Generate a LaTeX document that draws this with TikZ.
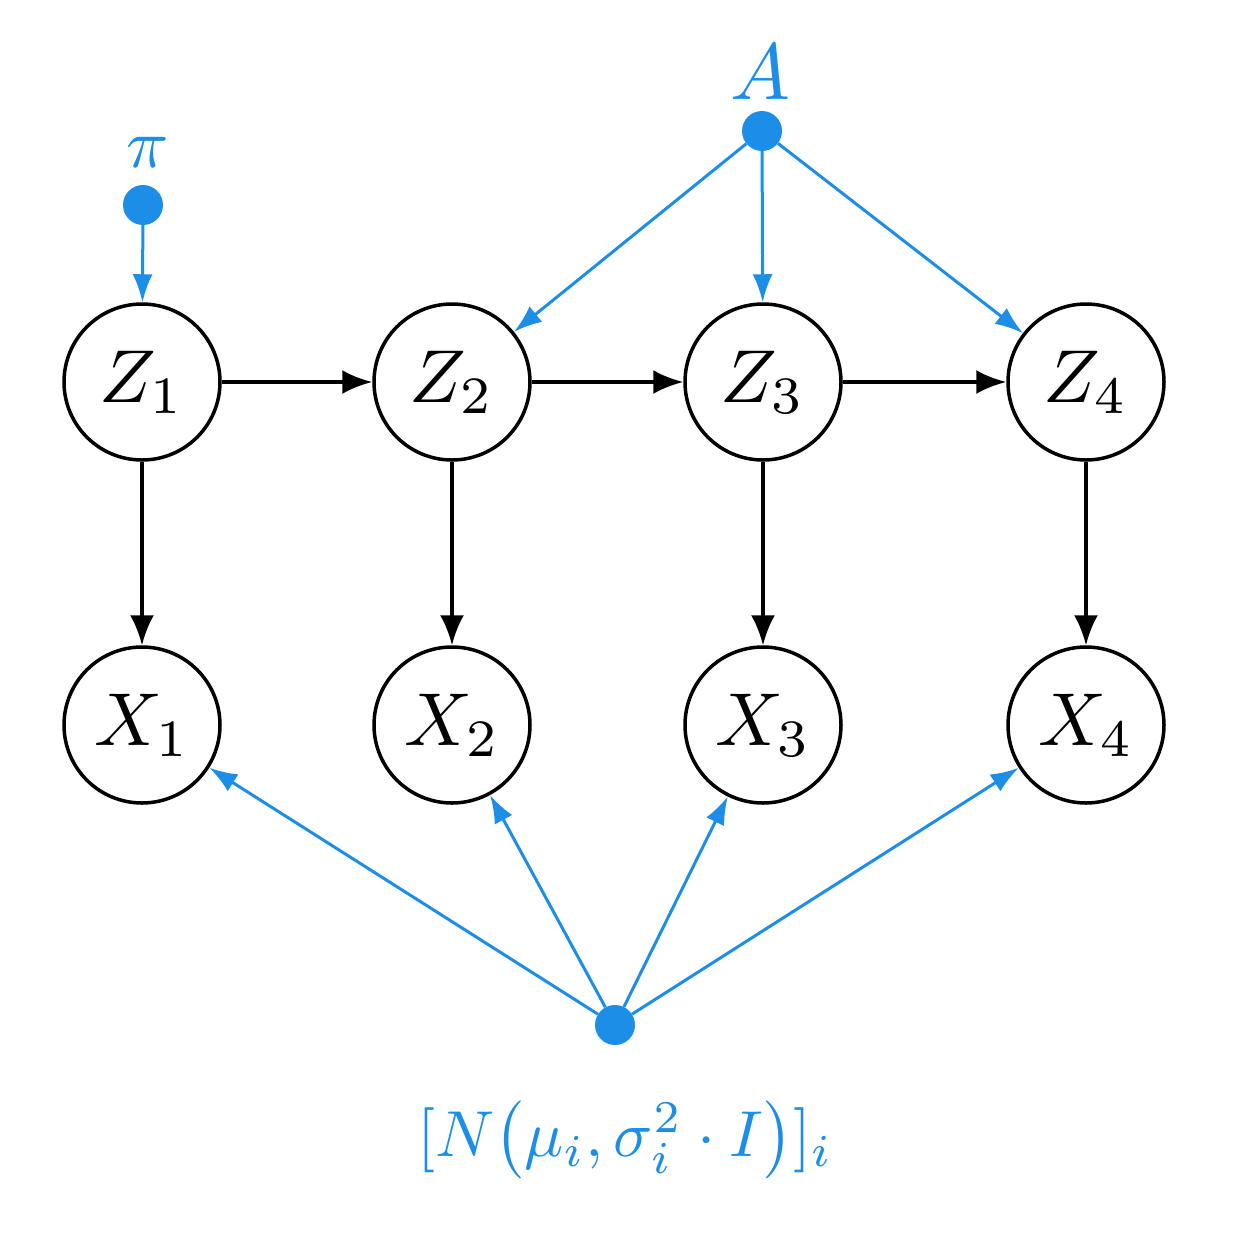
\documentclass[tikz,border=0pt]{standalone}
\usepackage{graphicx}
\usetikzlibrary{arrows.meta}
\definecolor{bl}{RGB}{28,142,232}
\begin{document}
\begin{tikzpicture}[x=1pt,y=-1pt,
 st/.style={circle,draw=black,line width=3.5pt,minimum size=156pt,inner sep=0pt},
 dot/.style={circle,fill=bl,minimum size=40pt,inner sep=0pt},
 lab/.style={text=bl},
 ka/.style={line width=3.5pt,-{Latex[length=30pt,width=24pt]}},
 ba/.style={draw=bl,line width=3pt,-{Latex[length=28pt,width=20pt]}}]
\useasboundingbox (0,0) rectangle (1254,1254);
\foreach \i/\x in {1/142,2/452,3/763,4/1086}{
 \node[st] (Z\i) at (\x,382) {\scalebox{7.5}{$Z_{\i}$}};
 \node[st] (X\i) at (\x,725) {\scalebox{7.5}{$X_{\i}$}};
 \draw[ka] (Z\i) -- (X\i);
}
\draw[ka] (Z1) -- (Z2); \draw[ka] (Z2) -- (Z3); \draw[ka] (Z3) -- (Z4);
\node[dot] (p) at (143,205) {};
\node[lab] (pl) at (148,152) {\scalebox{7}{$\pi$}};
\node[dot] (a) at (762,131) {};
\node[lab] (al) at (760,72) {\scalebox{8}{$A$}};
\node[dot] (n) at (615,1025) {};
\node[lab] (nl) at (625,1140) {\scalebox{6.5}{$[N\big(\mu_i,\sigma_i^2\cdot I\big)]_i$}};
\draw[ba] (p) -- (Z1);
\foreach \i in {2,3,4}{\draw[ba] (a) -- (Z\i);}
\foreach \i in {1,2,3,4}{\draw[ba] (n) -- (X\i);}
\end{tikzpicture}
\end{document}
